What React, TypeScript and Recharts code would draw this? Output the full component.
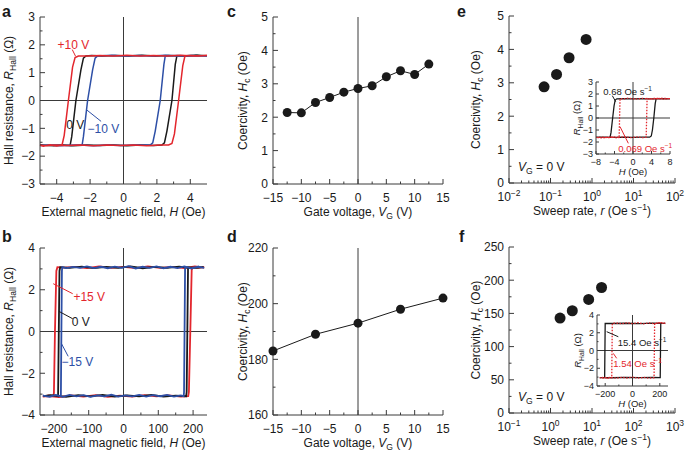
import React from 'react';
import { ComposedChart, Line, Scatter, XAxis, YAxis, ReferenceLine } from 'recharts';

const FONT = '"Liberation Sans", Arial, Helvetica, sans-serif';
const INK = '#1a1a1a';
const FRAME = '#3a3a3a';
const RED = '#e3262d';
const BLUE = '#2d4fa6';

type Pt = [number, number];
const toXY = (pts: Pt[]) => pts.map(([x, y]) => ({ x, y }));

// ---- a: Hall loops, small coercivity sample (H in Oe, R in ohm)
const aRed: Pt[] = [
  [5, 1.62], [4.2, 1.6], [3.4, 1.63], [2.6, 1.6], [1.8, 1.62], [1, 1.6], [0.2, 1.63], [-0.6, 1.6], [-1.4, 1.62],
  [-2.2, 1.6], [-2.7, 1.6], [-2.9, 1.54], [-3.05, 1.2], [-3.3, 0], [-3.55, -1.25], [-3.68, -1.6], [-4, -1.63],
  [-4.4, -1.59], [-4.8, -1.64], [-5, -1.61],
  [-4.6, -1.63], [-4.2, -1.6], [-3.4, -1.62], [-2.6, -1.6], [-1.8, -1.63], [-1, -1.6], [-0.2, -1.62], [0.6, -1.6],
  [1.4, -1.63], [2.2, -1.6], [2.7, -1.6], [2.9, -1.54], [3.05, -1.2], [3.3, 0], [3.55, 1.25], [3.68, 1.6],
  [4, 1.62], [4.5, 1.6], [5, 1.62],
];
const aBlack: Pt[] = [
  [5, 1.61], [4.3, 1.63], [3.5, 1.6], [2.7, 1.62], [1.9, 1.6], [1.1, 1.63], [0.3, 1.6], [-0.5, 1.62], [-1.3, 1.6],
  [-1.9, 1.62], [-2.25, 1.6], [-2.4, 1.52], [-2.55, 1.1], [-2.85, 0], [-3.1, -1.3], [-3.2, -1.62], [-3.6, -1.6],
  [-4.2, -1.63], [-5, -1.6],
  [-4.4, -1.62], [-3.8, -1.6], [-3, -1.63], [-2.2, -1.6], [-1.4, -1.62], [-0.6, -1.6], [0.2, -1.63], [1, -1.6],
  [1.8, -1.62], [2.3, -1.6], [2.45, -1.52], [2.6, -1.1], [2.9, 0], [3.1, 1.3], [3.2, 1.61], [3.8, 1.6],
  [4.4, 1.63], [5, 1.61],
];
const aBlue: Pt[] = [
  [5, 1.6], [4.1, 1.62], [3.3, 1.6], [2.5, 1.63], [1.7, 1.6], [0.9, 1.62], [0.1, 1.6], [-0.7, 1.63], [-1.55, 1.6],
  [-1.7, 1.52], [-1.85, 1.1], [-2.15, 0], [-2.4, -1.3], [-2.48, -1.61], [-3, -1.6], [-3.8, -1.63], [-4.5, -1.6],
  [-5, -1.62],
  [-4.2, -1.6], [-3.4, -1.62], [-2.6, -1.6], [-1.8, -1.63], [-1, -1.6], [-0.2, -1.62], [0.6, -1.6], [1.6, -1.6],
  [1.75, -1.52], [1.9, -1.1], [2.2, 0], [2.42, 1.3], [2.5, 1.6], [3.2, 1.62], [4.1, 1.6], [5, 1.6],
];

// ---- b: Hall loops, large coercivity sample
const bRed: Pt[] = [
  [232, 3.06], [205, 3.12], [175, 3.04], [140, 3.1], [105, 3.05], [70, 3.12], [35, 3.04], [0, 3.1], [-35, 3.05],
  [-70, 3.12], [-105, 3.04], [-140, 3.1], [-170, 3.06], [-190, 3.08], [-193, 2.9], [-197, 0], [-200, -2.95],
  [-202, -3.1], [-215, -3.06], [-232, -3.12],
  [-215, -3.1], [-185, -3.14], [-150, -3.06], [-115, -3.12], [-80, -3.05], [-45, -3.13], [-10, -3.07], [25, -3.12],
  [60, -3.05], [95, -3.11], [130, -3.06], [165, -3.12], [186, -3.1], [188, -2.9], [192, 0], [196, 2.95],
  [199, 3.08], [215, 3.05], [232, 3.1],
];
const bBlack: Pt[] = [
  [230, 3.08], [195, 3.04], [160, 3.11], [125, 3.05], [90, 3.1], [55, 3.03], [20, 3.12], [-15, 3.05], [-50, 3.1],
  [-85, 3.04], [-120, 3.11], [-155, 3.05], [-182, 3.08], [-184, 2.9], [-186, 0], [-188, -3.1], [-210, -3.05],
  [-230, -3.1],
  [-200, -3.06], [-165, -3.13], [-130, -3.05], [-95, -3.11], [-60, -3.04], [-25, -3.12], [10, -3.06], [45, -3.11],
  [80, -3.04], [115, -3.12], [150, -3.07], [180, -3.1], [181.5, -2.9], [183.5, 0], [185.5, 3.08], [210, 3.05],
  [230, 3.08],
];
const bBlue: Pt[] = [
  [232, 3.05], [215, 3.1], [195, 3.02], [175, 3.12], [155, 3.04], [135, 3.1], [115, 3.03], [95, 3.12], [75, 3.05],
  [55, 3.1], [35, 3.02], [15, 3.13], [-5, 3.05], [-25, 3.11], [-45, 3.03], [-65, 3.1], [-85, 3.04], [-105, 3.12],
  [-125, 3.05], [-145, 3.1], [-165, 3.04], [-176, 3.08], [-177, 2.9], [-178.5, 0], [-180, -3.1], [-195, -3.04],
  [-212, -3.13], [-232, -3.07],
  [-215, -3.12], [-195, -3.05], [-175, -3.13], [-155, -3.04], [-135, -3.11], [-115, -3.05], [-95, -3.13],
  [-75, -3.06], [-55, -3.11], [-35, -3.03], [-15, -3.12], [5, -3.06], [25, -3.11], [45, -3.04], [65, -3.12],
  [85, -3.05], [105, -3.1], [125, -3.04], [145, -3.12], [165, -3.06], [173, -3.1], [174, -2.9], [175.5, 0],
  [177, 3.08], [195, 3.04], [215, 3.11], [232, 3.05],
];

// ---- c, d: coercivity vs gate voltage
const cVg = [-12.5, -10, -7.5, -5, -2.5, 0, 2.5, 5, 7.5, 10, 12.5];
const cHc = [2.14, 2.13, 2.44, 2.59, 2.75, 2.86, 2.94, 3.21, 3.39, 3.28, 3.59];
const dVg = [-15, -7.5, 0, 7.5, 15];
const dHc = [183, 189, 193, 198, 202];

// ---- e, f: coercivity vs sweep rate (VG = 0 V)
const eRate = [0.07, 0.14, 0.28, 0.72];
const eHc = [2.88, 3.25, 3.75, 4.3];
const fRate = [1.7, 3.35, 8.3, 17];
const fHc = [143, 154, 171, 189];

// ---- insets: loops at two sweep rates
const ieFast: Pt[] = [
  [8, 1.6], [6, 1.62], [4, 1.6], [2, 1.62], [0, 1.6], [-2, 1.62], [-3.5, 1.6], [-3.85, 1.5], [-4.1, 1.0], [-4.4, 0],
  [-4.75, -1.2], [-4.95, -1.6], [-6, -1.62], [-8, -1.6],
  [-6, -1.6], [-4, -1.62], [-2, -1.6], [0, -1.62], [2, -1.6], [3.6, -1.6], [3.95, -1.5], [4.2, -1.0], [4.5, 0],
  [4.8, 1.2], [5.0, 1.6], [6, 1.62], [8, 1.6],
];
const ieSlow: Pt[] = [
  [8, 1.62], [6.5, 1.56], [5, 1.65], [3.5, 1.58], [2, 1.64], [0.5, 1.57], [-1, 1.65], [-2.2, 1.58], [-2.8, 1.62],
  [-2.9, 0], [-3.0, -1.62], [-4.2, -1.57], [-5.5, -1.65], [-6.8, -1.58], [-8, -1.62],
  [-6.5, -1.66], [-5, -1.58], [-3.5, -1.65], [-2, -1.57], [-0.5, -1.64], [1, -1.58], [2.2, -1.64], [2.85, -1.6],
  [2.95, 0], [3.05, 1.62], [4.5, 1.57], [6, 1.65], [8, 1.6],
];
const ifFast: Pt[] = [
  [240, 3.05], [150, 3.08], [50, 3.03], [-50, 3.07], [-150, 3.04], [-200, 3.05], [-202, 0], [-204, -3.05],
  [-240, -3.05],
  [-150, -3.07], [-50, -3.03], [50, -3.06], [150, -3.04], [203, -3.05], [205, 0], [207, 3.05], [240, 3.05],
];
const ifSlow: Pt[] = [
  [240, 3.08], [200, 3.14], [160, 3.02], [120, 3.12], [80, 3.0], [40, 3.13], [0, 3.03], [-40, 3.12], [-80, 3.01],
  [-120, 3.1], [-148, 3.06], [-150, 0], [-152, -3.06], [-180, -3.13], [-210, -3.0], [-240, -3.08],
  [-200, -3.12], [-160, -3.01], [-120, -3.12], [-80, -3.02], [-40, -3.1], [0, -3.0], [40, -3.12], [80, -3.03],
  [120, -3.11], [158, -3.06], [160, 0], [162, 3.06], [200, 3.12], [240, 3.04],
];

// ---- ticks
const aXTicks = [-4, -3, -2, -1, 0, 1, 2, 3, 4];
const aXMajor = [-4, -2, 0, 2, 4];
const aYTicks = [-3, -2.5, -2, -1.5, -1, -0.5, 0, 0.5, 1, 1.5, 2, 2.5, 3];
const aYMajor = [-3, -2, -1, 0, 1, 2, 3];
const bXTicks = [-200, -150, -100, -50, 0, 50, 100, 150, 200];
const bXMajor = [-200, -100, 0, 100, 200];
const bYTicks = [-4, -3, -2, -1, 0, 1, 2, 3, 4];
const bYMajor = [-4, -2, 0, 2, 4];
const vgTicks = [-15, -12.5, -10, -7.5, -5, -2.5, 0, 2.5, 5, 7.5, 10, 12.5, 15];
const vgMajor = [-15, -10, -5, 0, 5, 10, 15];
const cYTicks = [0, 0.5, 1, 1.5, 2, 2.5, 3, 3.5, 4, 4.5, 5];
const cYMajor = [0, 1, 2, 3, 4, 5];
const dYTicks = [160, 170, 180, 190, 200, 210, 220];
const dYMajor = [160, 180, 200, 220];
const eXTicks = [
  0.01, 0.02, 0.03, 0.04, 0.05, 0.06, 0.07, 0.08, 0.09, 0.1, 0.2, 0.3, 0.4, 0.5, 0.6, 0.7, 0.8, 0.9,
  1, 2, 3, 4, 5, 6, 7, 8, 9, 10, 20, 30, 40, 50, 60, 70, 80, 90, 100,
];
const eXMajor = [0.01, 0.1, 1, 10, 100];
const fXTicks = [
  0.1, 0.2, 0.3, 0.4, 0.5, 0.6, 0.7, 0.8, 0.9, 1, 2, 3, 4, 5, 6, 7, 8, 9, 10, 20, 30, 40, 50, 60, 70, 80, 90,
  100, 200, 300, 400, 500, 600, 700, 800, 900, 1000,
];
const fXMajor = [0.1, 1, 10, 100, 1000];
const fYTicks = [0, 25, 50, 75, 100, 125, 150, 175, 200, 225, 250];
const fYMajor = [0, 50, 100, 150, 200, 250];
const ieXTicks = [-8, -6, -4, -2, 0, 2, 4, 6, 8];
const ieXMajor = [-8, -4, 0, 4, 8];
const ieYTicks = [-3, -2, -1, 0, 1, 2, 3];
const ifXTicks = [-200, -100, 0, 100, 200];
const ifXMajor = [-200, 0, 200];
const ifYTicks = [-4, -3, -2, -1, 0, 1, 2, 3, 4];
const ifYMajor = [-4, -2, 0, 2, 4];

const num = (v: number) => (v < 0 ? `\u2212${-v}` : `${v}`);
const pow10 = (v: number) => (
  <>
    10
    <tspan dy={-5} fontSize={8.5}>{num(Math.round(Math.log10(v)))}</tspan>
  </>
);

type Size = { major: number; minor: number; fs: number; gapX: number; gapY: number };
const SZ: Size = { major: 5, minor: 2.5, fs: 12, gapX: 5, gapY: 18 };
const SZI: Size = { major: 3, minor: 1.5, fs: 9, gapX: 3, gapY: 10.5 };

type Side = 'bottom' | 'top' | 'left' | 'right';
const makeTick = (side: Side, majors: number[], fmt: ((v: number) => React.ReactNode) | null, sz: Size) =>
  (p: any) => {
    const { x, y } = p;
    const v = p.payload.value;
    const big = majors.some((m) => Math.abs(m - v) <= Math.abs(m) * 1e-6 + 1e-9);
    const len = big ? sz.major : sz.minor;
    const d = side === 'bottom' ? [0, -len] : side === 'top' ? [0, len] : side === 'left' ? [len, 0] : [-len, 0];
    return (
      <g>
        <line x1={x} y1={y} x2={x + d[0]} y2={y + d[1]} stroke={FRAME} strokeWidth={1} />
        {big && fmt && side === 'bottom' && (
          <text x={x} y={y + sz.gapY} textAnchor="middle" fontSize={sz.fs} fontFamily={FONT} fill={INK}>
            {fmt(v)}
          </text>
        )}
        {big && fmt && side === 'left' && (
          <text x={x - sz.gapX} y={y} dy="0.36em" textAnchor="end" fontSize={sz.fs} fontFamily={FONT} fill={INK}>
            {fmt(v)}
          </text>
        )}
      </g>
    );
  };

const xTitle = (content: React.ReactNode, dy: number, fs = 12) => (p: any) => {
  const vb = p.viewBox;
  return (
    <text x={vb.x + vb.width / 2} y={vb.y + dy} textAnchor="middle" fontSize={fs} fontFamily={FONT} fill={INK}>
      {content}
    </text>
  );
};
const yTitle = (content: React.ReactNode, dx: number, fs = 12) => (p: any) => {
  const vb = p.viewBox;
  const cx = vb.x + dx;
  const cy = vb.y + vb.height / 2;
  return (
    <text x={cx} y={cy} transform={`rotate(-90 ${cx} ${cy})`} textAnchor="middle" fontSize={fs} fontFamily={FONT} fill={INK}>
      {content}
    </text>
  );
};

interface AxisCfg {
  domain: [number, number];
  ticks: number[];
  majors: number[];
  fmt: (v: number) => React.ReactNode;
  log?: boolean;
}

const frame = (x: AxisCfg, y: AxisCfg, yWidth: number, xHeight: number, sz: Size, xl: any, yl: any) => [
  <XAxis key="xb" xAxisId="b" dataKey="x" type="number" scale={x.log ? 'log' : 'auto'} domain={x.domain}
    ticks={x.ticks} interval={0} height={xHeight} tickLine={false} tickSize={0} tickMargin={0}
    axisLine={{ stroke: FRAME }} tick={makeTick('bottom', x.majors, x.fmt, sz)} label={xl} />,
  <XAxis key="xt" xAxisId="t" orientation="top" type="number" scale={x.log ? 'log' : 'auto'} domain={x.domain}
    ticks={x.ticks} interval={0} height={0} tickLine={false} tickSize={0} tickMargin={0} allowDataOverflow
    axisLine={{ stroke: FRAME }} tick={makeTick('top', x.majors, null, sz)} />,
  <YAxis key="yl" yAxisId="l" dataKey="y" type="number" domain={y.domain} ticks={y.ticks} interval={0}
    width={yWidth} tickLine={false} tickSize={0} tickMargin={0} axisLine={{ stroke: FRAME }}
    tick={makeTick('left', y.majors, y.fmt, sz)} label={yl} />,
  <YAxis key="yr" yAxisId="r" orientation="right" type="number" domain={y.domain} ticks={y.ticks} interval={0}
    width={0} tickLine={false} tickSize={0} tickMargin={0} allowDataOverflow axisLine={{ stroke: FRAME }}
    tick={makeTick('right', y.majors, null, sz)} />,
];

const note = (content: React.ReactNode, color: string, fs = 12) => (p: any) => (
  <text x={p.cx} y={p.cy} fontSize={fs} fill={color} fontFamily={FONT}>{content}</text>
);
const dotShape = (r: number) => (p: any) => <circle cx={p.cx} cy={p.cy} r={r} fill={INK} />;

const loop = (key: string, pts: Pt[], color: string, w = 1.5, dash?: string) => (
  <Line key={key} xAxisId="b" yAxisId="l" data={toXY(pts)} dataKey="y" type="linear" stroke={color}
    strokeWidth={w} strokeDasharray={dash} dot={false} isAnimationActive={false} />
);
const pointer = (key: string, pts: Pt[], color: string) => (
  <Line key={key} xAxisId="b" yAxisId="l" data={toXY(pts)} dataKey="y" type="linear" stroke={color}
    strokeWidth={1} dot={false} isAnimationActive={false} />
);
const label = (key: string, at: Pt, content: React.ReactNode, color: string, fs = 12) => (
  <Scatter key={key} xAxisId="b" yAxisId="l" data={toXY([at])} shape={note(content, color, fs)} isAnimationActive={false} />
);

const hallTitle = (fs: number) => (
  <>
    <tspan>Hall resistance, </tspan>
    <tspan fontStyle="italic">R</tspan>
    <tspan fontSize={fs * 0.72} dy={fs * 0.28}>Hall</tspan>
    <tspan dy={-fs * 0.28}> (Ω)</tspan>
  </>
);
const rHall = (fs: number) => (
  <>
    <tspan fontStyle="italic">R</tspan>
    <tspan fontSize={fs * 0.72} dy={fs * 0.28}>Hall</tspan>
    <tspan dy={-fs * 0.28}> (Ω)</tspan>
  </>
);
const fieldTitle = (
  <>
    External magnetic field, <tspan fontStyle="italic">H</tspan> (Oe)
  </>
);
const hcTitle = (
  <>
    <tspan>Coercivity, </tspan>
    <tspan fontStyle="italic">H</tspan>
    <tspan fontSize={8.6} dy={3.4}>c</tspan>
    <tspan dy={-3.4}> (Oe)</tspan>
  </>
);
const vgTitle = (
  <>
    <tspan>Gate voltage, </tspan>
    <tspan fontStyle="italic">V</tspan>
    <tspan fontSize={8.6} dy={3.4}>G</tspan>
    <tspan dy={-3.4}> (V)</tspan>
  </>
);
const rateTitle = (
  <>
    <tspan>Sweep rate, </tspan>
    <tspan fontStyle="italic">r</tspan>
    <tspan> (Oe s</tspan>
    <tspan fontSize={8.6} dy={-5}>−1</tspan>
    <tspan dy={5}>)</tspan>
  </>
);
const vgZero = (
  <>
    <tspan fontStyle="italic">V</tspan>
    <tspan fontSize={8.6} dy={3.4}>G</tspan>
    <tspan dy={-3.4}> = 0 V</tspan>
  </>
);
const rateNote = (v: string) => (
  <>
    <tspan>{v} Oe s</tspan>
    <tspan fontSize={6.5} dy={-4}>−1</tspan>
  </>
);

const box = (left: number, top: number): React.CSSProperties => ({ position: 'absolute', left, top });

const App: React.FC = () => {
  return (
    <div style={{ position: 'absolute', left: 0, top: 0, width: 685, height: 458, background: '#fff', fontFamily: FONT, overflow: 'hidden' }}>
      {/* a */}
      <div style={box(0, 0)}>
        <ComposedChart width={230} height={225} margin={{ top: 17, right: 23, left: 0, bottom: 0 }}>
          {frame(
            { domain: [-5, 5], ticks: aXTicks, majors: aXMajor, fmt: num },
            { domain: [-3, 3], ticks: aYTicks, majors: aYMajor, fmt: num },
            40, 41, SZ, xTitle(fieldTitle, 32), yTitle(hallTitle(12), 13),
          )}
          <ReferenceLine xAxisId="b" yAxisId="l" x={0} stroke={FRAME} />
          <ReferenceLine xAxisId="b" yAxisId="l" y={0} stroke={FRAME} />
          {loop('k', aBlack, INK)}
          {loop('bl', aBlue, BLUE)}
          {loop('r', aRed, RED)}
          {pointer('p1', [[-3.07, 1.83], [-2.87, 1.59]], RED)}
          {pointer('p2', [[-2.2, -0.34], [-1.34, -0.75]], BLUE)}
          {label('t1', [-3.95, 1.86], '+10 V', RED)}
          {label('t2', [-3.43, -1.01], '0 V', INK)}
          {label('t3', [-2.15, -1.17], '\u221210 V', BLUE)}
        </ComposedChart>
      </div>

      {/* b */}
      <div style={box(0, 225)}>
        <ComposedChart width={230} height={233} margin={{ top: 23, right: 23, left: 0, bottom: 0 }}>
          {frame(
            { domain: [-240, 240], ticks: bXTicks, majors: bXMajor, fmt: num },
            { domain: [-4, 4], ticks: bYTicks, majors: bYMajor, fmt: num },
            40, 43, SZ, xTitle(fieldTitle, 32), yTitle(hallTitle(12), 13),
          )}
          <ReferenceLine xAxisId="b" yAxisId="l" x={0} stroke={FRAME} />
          <ReferenceLine xAxisId="b" yAxisId="l" y={0} stroke={FRAME} />
          {loop('r', bRed, RED, 1.8)}
          {loop('k', bBlack, INK, 1.8)}
          {loop('bl', bBlue, BLUE, 1.8)}
          {pointer('p1', [[-202, 2.29], [-146, 1.81]], RED)}
          {pointer('p2', [[-185, 0.96], [-146, 0.61]], INK)}
          {pointer('p3', [[-178, -0.59], [-159, -1.19]], BLUE)}
          {label('t1', [-144, 1.44], '+15 V', RED)}
          {label('t2', [-149, 0.25], '0 V', INK)}
          {label('t3', [-178, -1.63], '\u221215 V', BLUE)}
        </ComposedChart>
      </div>

      {/* c */}
      <div style={box(230, 0)}>
        <ComposedChart width={225} height={225} margin={{ top: 17, right: 12, left: 0, bottom: 0 }}>
          {frame(
            { domain: [-15, 15], ticks: vgTicks, majors: vgMajor, fmt: num },
            { domain: [0, 5], ticks: cYTicks, majors: cYMajor, fmt: num },
            43, 41, SZ, xTitle(vgTitle, 32), yTitle(hcTitle, 17),
          )}
          <ReferenceLine xAxisId="b" yAxisId="l" x={0} stroke={FRAME} />
          <Line xAxisId="b" yAxisId="l" data={cVg.map((x, i) => ({ x, y: cHc[i] }))} dataKey="y" type="linear"
            stroke={INK} strokeWidth={1} dot={false} isAnimationActive={false} />
          <Scatter xAxisId="b" yAxisId="l" data={cVg.map((x, i) => ({ x, y: cHc[i] }))} shape={dotShape(4.5)} isAnimationActive={false} />
        </ComposedChart>
      </div>

      {/* d */}
      <div style={box(230, 225)}>
        <ComposedChart width={225} height={233} margin={{ top: 23, right: 12, left: 0, bottom: 0 }}>
          {frame(
            { domain: [-15, 15], ticks: vgTicks, majors: vgMajor, fmt: num },
            { domain: [160, 220], ticks: dYTicks, majors: dYMajor, fmt: num },
            43, 43, SZ, xTitle(vgTitle, 32), yTitle(hcTitle, 17),
          )}
          <ReferenceLine xAxisId="b" yAxisId="l" x={0} stroke={FRAME} />
          <Line xAxisId="b" yAxisId="l" data={dVg.map((x, i) => ({ x, y: dHc[i] }))} dataKey="y" type="linear"
            stroke={INK} strokeWidth={1} dot={false} isAnimationActive={false} />
          <Scatter xAxisId="b" yAxisId="l" data={dVg.map((x, i) => ({ x, y: dHc[i] }))} shape={dotShape(4.5)} isAnimationActive={false} />
        </ComposedChart>
      </div>

      {/* e */}
      <div style={box(455, 0)}>
        <ComposedChart width={230} height={225} margin={{ top: 16, right: 10, left: 0, bottom: 0 }}>
          {frame(
            { domain: [0.01, 100], ticks: eXTicks, majors: eXMajor, fmt: pow10, log: true },
            { domain: [0, 5], ticks: cYTicks, majors: cYMajor, fmt: num },
            54, 42, SZ, xTitle(rateTitle, 32), yTitle(hcTitle, 25),
          )}
          <Scatter xAxisId="b" yAxisId="l" data={eRate.map((x, i) => ({ x, y: eHc[i] }))} shape={dotShape(5.5)} isAnimationActive={false} />
          {label('vg', [0.0165, 0.36], vgZero, INK)}
        </ComposedChart>
      </div>

      {/* e inset */}
      <div style={box(568, 75)}>
        <ComposedChart width={107} height={105} margin={{ top: 7, right: 5, left: 0, bottom: 0 }}>
          {frame(
            { domain: [-8, 8], ticks: ieXTicks, majors: ieXMajor, fmt: num },
            { domain: [-3, 3], ticks: ieYTicks, majors: ieYTicks, fmt: num },
            28, 26, SZI, xTitle(<><tspan fontStyle="italic">H</tspan> (Oe)</>, 21, 9.5), yTitle(rHall(9.5), 12, 9.5),
          )}
          <ReferenceLine xAxisId="b" yAxisId="l" x={0} stroke={FRAME} />
          <ReferenceLine xAxisId="b" yAxisId="l" y={0} stroke={FRAME} />
          {loop('k', ieFast, INK, 1.3)}
          {loop('r', ieSlow, RED, 1.3, '1.5 1.5')}
          {pointer('p1', [[-4.47, 1.86], [-3.74, 1.36]], INK)}
          {pointer('p2', [[-2.81, -0.72], [-1.01, -2.11]], RED)}
          {label('t1', [-6.42, 1.92], rateNote('0.68'), INK, 9.5)}
          {label('t2', [-3.18, -2.8], rateNote('0.069'), RED, 9.5)}
        </ComposedChart>
      </div>

      {/* f */}
      <div style={box(455, 225)}>
        <ComposedChart width={230} height={233} margin={{ top: 22, right: 10, left: 0, bottom: 0 }}>
          {frame(
            { domain: [0.1, 1000], ticks: fXTicks, majors: fXMajor, fmt: pow10, log: true },
            { domain: [0, 250], ticks: fYTicks, majors: fYMajor, fmt: num },
            54, 45, SZ, xTitle(rateTitle, 32), yTitle(hcTitle, 25),
          )}
          <Scatter xAxisId="b" yAxisId="l" data={fRate.map((x, i) => ({ x, y: fHc[i] }))} shape={dotShape(5.5)} isAnimationActive={false} />
          {label('vg', [0.165, 18], vgZero, INK)}
        </ComposedChart>
      </div>

      {/* f inset */}
      <div style={box(568, 305)}>
        <ComposedChart width={105} height={105} margin={{ top: 10, right: 5, left: 0, bottom: 0 }}>
          {frame(
            { domain: [-260, 260], ticks: ifXTicks, majors: ifXMajor, fmt: num },
            { domain: [-4, 4], ticks: ifYTicks, majors: ifYMajor, fmt: num },
            29, 24, SZI, xTitle(<><tspan fontStyle="italic">H</tspan> (Oe)</>, 21, 9.5), yTitle(rHall(9.5), 13, 9.5),
          )}
          <ReferenceLine xAxisId="b" yAxisId="l" x={0} stroke={FRAME} />
          <ReferenceLine xAxisId="b" yAxisId="l" y={0} stroke={FRAME} />
          {loop('k', ifFast, INK, 1.3)}
          {loop('r', ifSlow, RED, 1.3, '1.5 1.5')}
          {pointer('p1', [[-189, 2.12], [-104, 1.55]], INK)}
          {pointer('p2', [[-141, -0.32], [-116, -0.88]], RED)}
          {label('t1', [-108, 0.5], rateNote('15.4'), INK, 9.5)}
          {label('t2', [-141, -1.82], rateNote('1.54'), RED, 9.5)}
        </ComposedChart>
      </div>

      <svg width={685} height={458} style={{ position: 'absolute', left: 0, top: 0, pointerEvents: 'none' }}>
        <g fontFamily={FONT} fontWeight="bold" fontSize={16} fill={INK}>
          <text x={2} y={17}>a</text>
          <text x={2} y={242}>b</text>
          <text x={227} y={17}>c</text>
          <text x={227} y={242}>d</text>
          <text x={457} y={17}>e</text>
          <text x={459} y={242}>f</text>
        </g>
      </svg>
    </div>
  );
};

export default App;
